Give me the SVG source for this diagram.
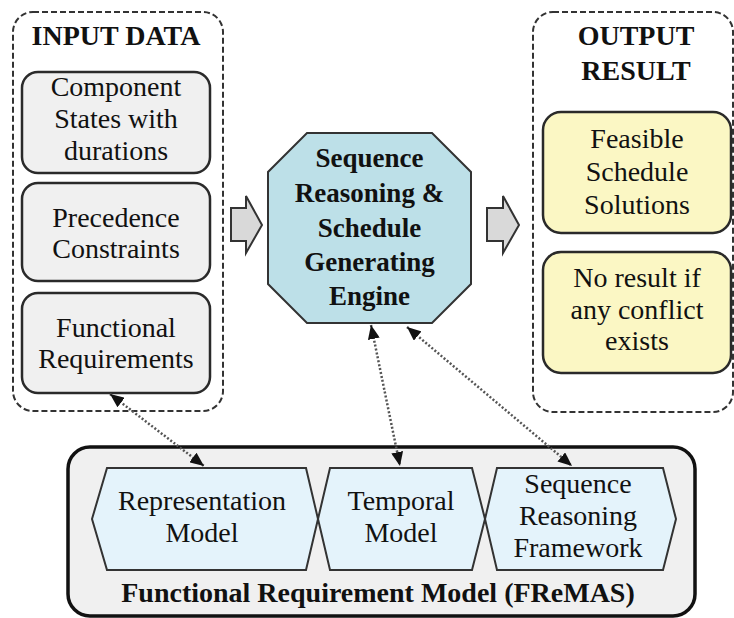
<svg xmlns="http://www.w3.org/2000/svg" width="734" height="618" viewBox="0 0 734 618">
<defs>
<style>
.dash{fill:#ffffff;stroke:#333;stroke-width:2;stroke-dasharray:6,3}
.inbox{fill:#f0f0f0;stroke:#2a2a2a;stroke-width:2.5}
.outbox{fill:#fbf7c4;stroke:#2a2a2a;stroke-width:2.5}
.hex{fill:#e4f3fb;stroke:#333;stroke-width:2}
.con{fill:none;stroke:#555;stroke-width:2.5;stroke-dasharray:2,2}
.blk{fill:#d9d9d9;stroke:#333;stroke-width:2}
</style>
<marker id="ah" viewBox="0 0 14 12" refX="14" refY="6" markerWidth="14" markerHeight="12" orient="auto-start-reverse" markerUnits="userSpaceOnUse">
<path d="M0,0 L14,6 L0,12 Z" fill="#111"/>
</marker>
</defs>

<g font-family="'Liberation Serif', 'Times New Roman', 'DejaVu Serif', serif" fill="#111" text-anchor="middle">
<g id="input-data">
<rect class="dash" x="13" y="12" width="210" height="399" rx="20"/>
<text x="116" y="45" font-size="28" font-weight="bold">INPUT DATA</text>
</g>
<g id="component-states" font-size="28">
<rect class="inbox" x="22" y="72" width="188" height="101" rx="16"/>
<text x="116" y="96">Component</text>
<text x="116" y="128">States with</text>
<text x="116" y="160">durations</text>
</g>
<g id="precedence" font-size="28">
<rect class="inbox" x="22" y="183" width="188" height="98" rx="16"/>
<text x="116" y="227">Precedence</text>
<text x="116" y="258">Constraints</text>
</g>
<g id="functional-req" font-size="28">
<rect class="inbox" x="22" y="293" width="188" height="100" rx="16"/>
<text x="116" y="337">Functional</text>
<text x="116" y="368">Requirements</text>
</g>

<g id="output-result">
<rect class="dash" x="533" y="12" width="200" height="400" rx="20"/>
<text x="636" y="45" font-size="28" font-weight="bold">OUTPUT</text>
<text x="636" y="80" font-size="28" font-weight="bold">RESULT</text>
</g>
<g id="feasible" font-size="28">
<rect class="outbox" x="543" y="112" width="188" height="121" rx="18"/>
<text x="637" y="148">Feasible</text>
<text x="637" y="181">Schedule</text>
<text x="637" y="214">Solutions</text>
</g>
<g id="no-result" font-size="28">
<rect class="outbox" x="543" y="252" width="188" height="121" rx="18"/>
<text x="637" y="287">No result if</text>
<text x="637" y="319">any conflict</text>
<text x="637" y="350">exists</text>
</g>

<g id="engine" font-size="27" font-weight="bold">
<polygon points="307,133 432,133 471,172 471,284 432,323 307,323 268,284 268,172" fill="#bde0e8" stroke="#333" stroke-width="2"/>
<text x="369.5" y="167">Sequence</text>
<text x="369.5" y="202">Reasoning &amp;</text>
<text x="369.5" y="237">Schedule</text>
<text x="369.5" y="271">Generating</text>
<text x="369.5" y="305">Engine</text>
</g>

<g id="block-arrows">
<polygon class="blk" points="231,208 246,208 246,196 262,225 246,253 246,241 231,241"/>
<polygon class="blk" points="487,208 503,208 503,196 519,225 503,253 503,241 487,241"/>
</g>

<g id="fremas">
<rect x="68" y="447" width="627" height="169" rx="22" fill="#f0f0f0" stroke="#111" stroke-width="3.5"/>
<text x="378" y="602" font-size="28" font-weight="bold">Functional Requirement Model (FReMAS)</text>
</g>
<g id="representation-model" font-size="28">
<polygon class="hex" points="107,468 306,468 318,519 306,570 107,570 92,519"/>
<text x="202" y="510">Representation</text>
<text x="202" y="542">Model</text>
</g>
<g id="temporal-model" font-size="28">
<polygon class="hex" points="330,468 472,468 485,519 472,570 330,570 318,519"/>
<text x="401" y="510">Temporal</text>
<text x="401" y="542">Model</text>
</g>
<g id="sequence-reasoning-framework" font-size="28">
<polygon class="hex" points="497,468 663,468 676,519 663,570 497,570 485,519"/>
<text x="578" y="493">Sequence</text>
<text x="578" y="525">Reasoning</text>
<text x="578" y="557">Framework</text>
</g>
</g>

<g id="connectors">
<line class="con" x1="110" y1="394" x2="204" y2="466" marker-start="url(#ah)" marker-end="url(#ah)"/>
<line class="con" x1="371" y1="325" x2="400" y2="466" marker-start="url(#ah)" marker-end="url(#ah)"/>
<line class="con" x1="407" y1="327" x2="572" y2="466" marker-start="url(#ah)" marker-end="url(#ah)"/>
</g>
</svg>
